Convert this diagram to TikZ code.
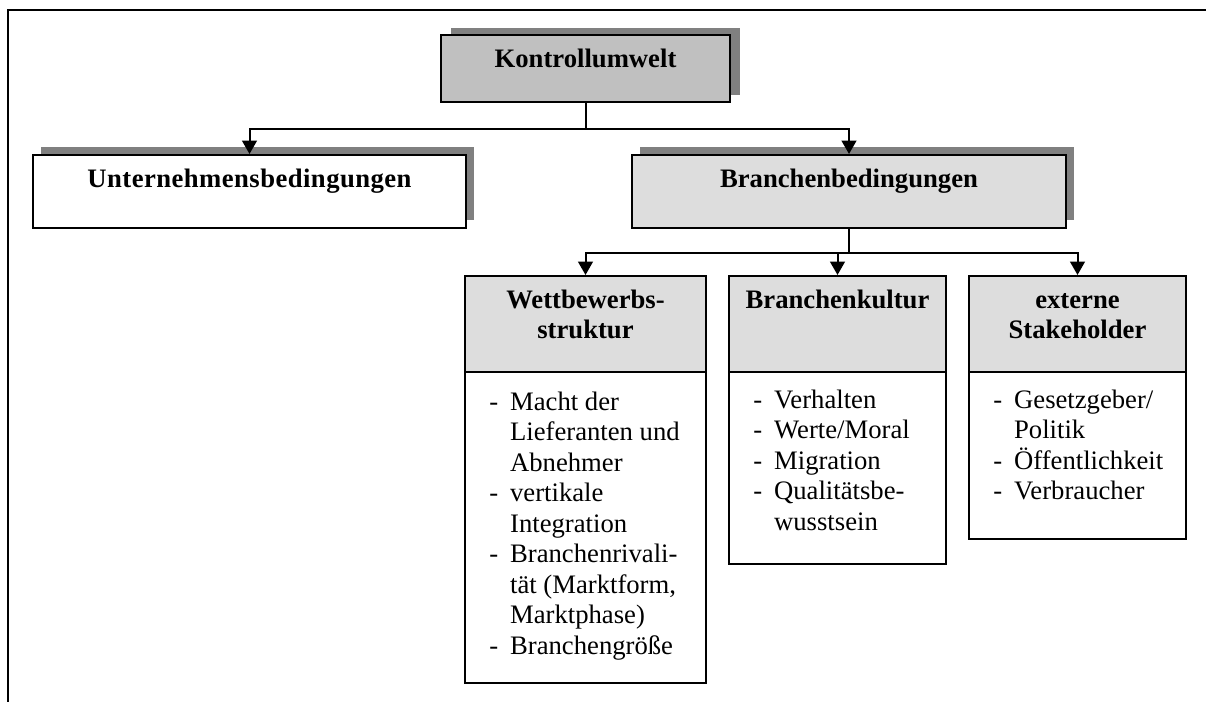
\documentclass[tikz,border=0pt]{standalone}
\usepackage{fontspec}
\setmainfont{Liberation Serif}
\usetikzlibrary{fit,shadows,arrows.meta}
\definecolor{kgray}{HTML}{C0C0C0}
\definecolor{lgray}{HTML}{DDDDDD}
\definecolor{sgray}{HTML}{808080}
\begin{document}
\begin{tikzpicture}[x=0.75pt,y=-0.75pt,
  box/.style={draw, line width=1.5pt, inner sep=0pt},
  shbox/.style={box, drop shadow={shadow xshift=6pt, shadow yshift=6pt, fill=sgray, opacity=1}},
  kshbox/.style={box, drop shadow={shadow xshift=7.5pt, shadow yshift=5.25pt, fill=sgray, opacity=1}},
  line/.style={line width=1.5pt},
  conn/.style={line width=1.5pt, -{Triangle[length=10pt,width=11pt]}},
  ttl/.style={font=\fontsize{20}{22.5}\selectfont\bfseries, anchor=base, inner sep=0pt},
  lst/.style={font=\fontsize{20}{22.9}\selectfont, anchor=base west, inner sep=0pt}]
\useasboundingbox (0,0) rectangle (1206,702);
% outer frame
\coordinate (fb) at (8,702);
\coordinate (fc) at (8,10);
\coordinate (fr) at (1206,10);
\draw[line width=1.6pt] (fb) -- (fc) -- (fr);
% top level
\node[kshbox, fill=kgray, fit={(441,35)(730,102)}] (k) {};
\node[ttl] (kt) at (585.5,68) {Kontrollumwelt};
% second level
\node[shbox, fill=white, fit={(33,155)(466,228)}] (u) {};
\node[ttl] (ut) at (249.5,188) {\addfontfeature{LetterSpace=1.7}Unternehmensbedingungen};
\node[shbox, fill=lgray, fit={(632,155)(1066,228)}] (b) {};
\node[ttl] (bt) at (849,188) {Branchenbedingungen};
% third level
\node[box, fill=lgray, fit={(465,276)(706,372)}] (w) {};
\node[box, fit={(465,372)(706,683)}] (wb) {};
\node[box, fill=lgray, fit={(729,276)(946,372)}] (c) {};
\node[box, fit={(729,372)(946,564)}] (cb) {};
\node[box, fill=lgray, fit={(969,276)(1186,372)}] (s) {};
\node[box, fit={(969,372)(1186,539)}] (sb) {};
\node[ttl] (wt) at (585.5,308) {\begin{tabular}[t]{@{}c@{}}Wettbewerbs-\\struktur\end{tabular}};
\node[ttl] (ct) at (837.5,308) {Branchenkultur};
\node[ttl] (st) at (1077.5,308) {\begin{tabular}[t]{@{}c@{}}externe\\Stakeholder\end{tabular}};
\node[lst] (wl) at (489,410) {\begin{tabular}[t]{@{}l@{\hspace{9pt}}l@{}}
 - & Macht der\\ & Lieferanten und\\ & Abnehmer\\
 - & vertikale\\ & Integration\\
 - & Branchenrivali-\\ & tät (Marktform,\\ & Marktphase)\\
 - & Branchengröße\end{tabular}};
\node[lst] (cl) at (753,408) {\begin{tabular}[t]{@{}l@{\hspace{9pt}}l@{}}
 - & Verhalten\\ - & Werte/Moral\\ - & Migration\\ - & Qualitätsbe-\\ & wusstsein\end{tabular}};
\node[lst] (sl) at (993,408) {\begin{tabular}[t]{@{}l@{\hspace{9pt}}l@{}}
 - & Gesetzgeber/\\ & Politik\\ - & Öffentlichkeit\\ - & Verbraucher\end{tabular}};
% connectors
\draw[line] (k.south) -- ++(0,26) coordinate (kj);
\draw[conn] (kj) -| (u.north);
\draw[conn] (kj) -| (b.north);
\draw[line] (b.south) -- ++(0,24) coordinate (bj);
\draw[conn] (bj) -| (w.north);
\draw[conn] (bj) -| (c.north);
\draw[conn] (bj) -| (s.north);
\end{tikzpicture}
\end{document}
